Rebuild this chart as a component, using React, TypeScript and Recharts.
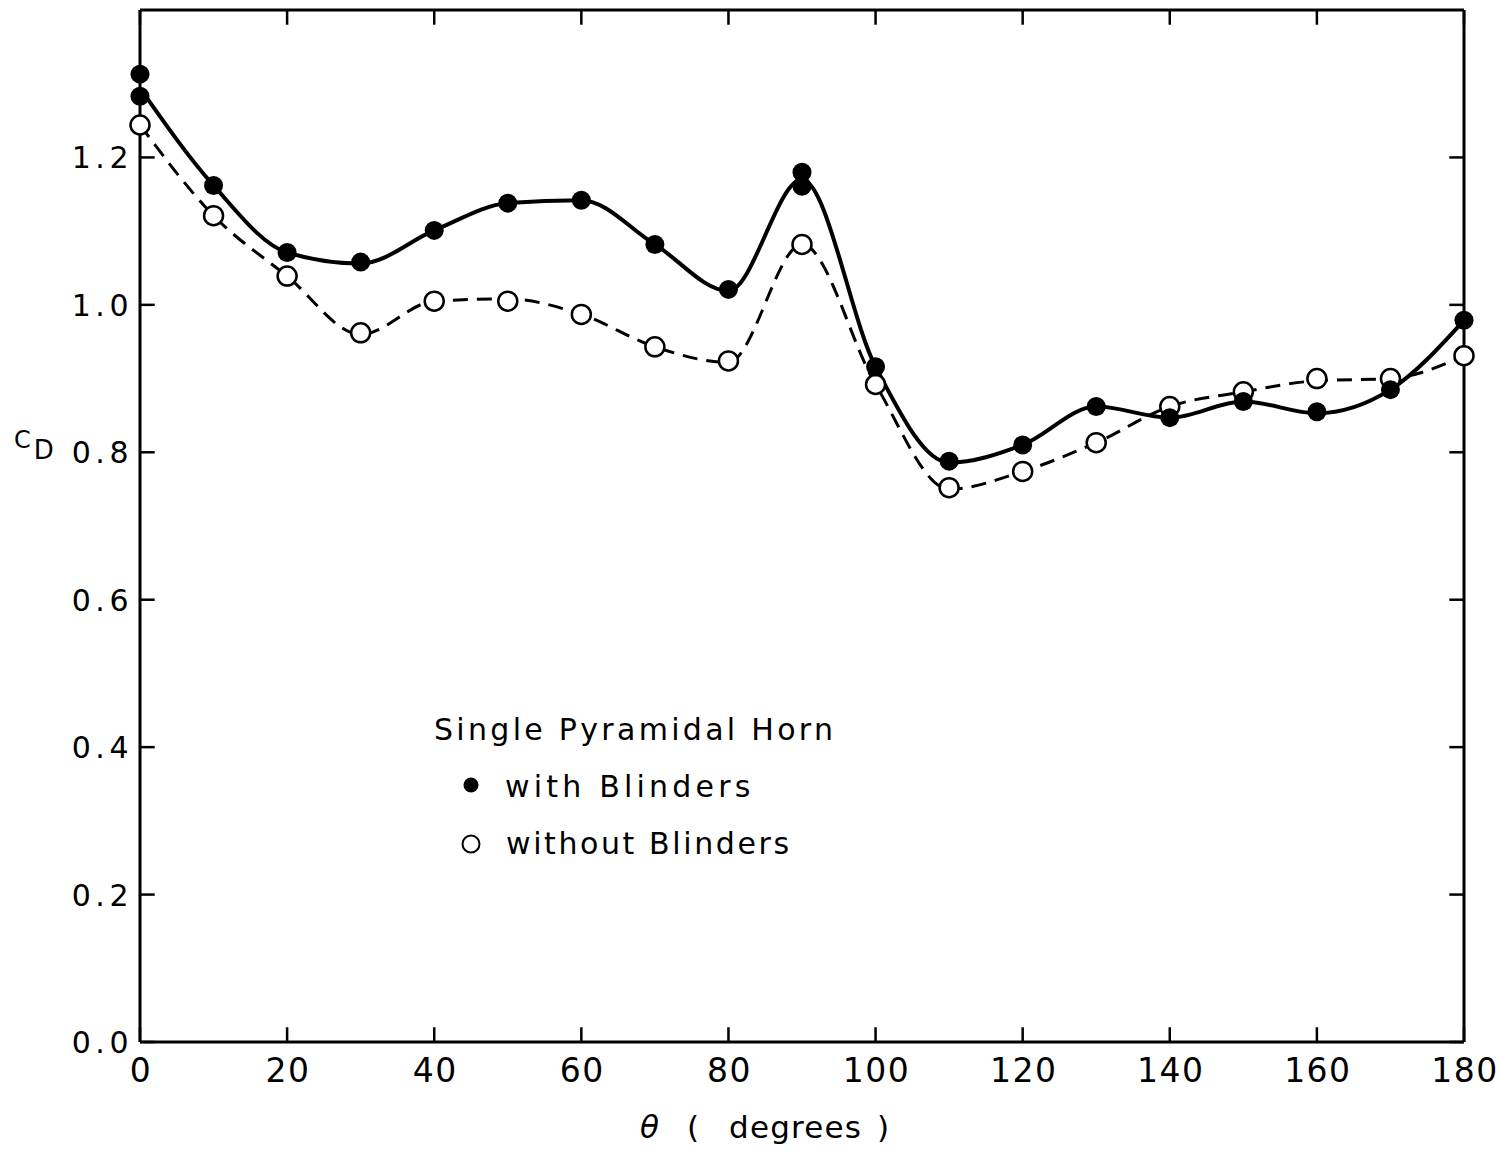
import { ComposedChart, Line, Scatter, XAxis, YAxis, ReferenceLine } from "recharts";

const withAngles = [0, 0, 10, 20, 30, 40, 50, 60, 70, 80, 90, 90, 100, 110, 120, 130, 140, 150, 160, 170, 180];
const withCd = [1.313, 1.283, 1.162, 1.071, 1.058, 1.101, 1.138, 1.142, 1.082, 1.021, 1.18, 1.161, 0.916, 0.788, 0.81, 0.862, 0.847, 0.869, 0.855, 0.885, 0.979];

const withoutAngles = [0, 10, 20, 30, 40, 50, 60, 70, 80, 90, 100, 110, 120, 130, 140, 150, 160, 170, 180];
const withoutCd = [1.244, 1.121, 1.039, 0.962, 1.005, 1.005, 0.987, 0.943, 0.924, 1.082, 0.892, 0.752, 0.774, 0.813, 0.862, 0.882, 0.9, 0.9, 0.931];

// faired curves, read where they cross each 10 degree line
const curveAngles = [0, 10, 20, 30, 40, 50, 60, 70, 80, 90, 100, 110, 120, 130, 140, 150, 160, 170, 180];
const curveWith = [1.294, 1.162, 1.071, 1.056, 1.101, 1.138, 1.142, 1.082, 1.019, 1.17, 0.916, 0.786, 0.81, 0.862, 0.847, 0.869, 0.853, 0.885, 0.979];
const curveWithout = [1.244, 1.121, 1.039, 0.96, 1.005, 1.008, 0.987, 0.943, 0.922, 1.082, 0.892, 0.75, 0.774, 0.813, 0.862, 0.882, 0.897, 0.9, 0.931];

const xTicks = [0, 20, 40, 60, 80, 100, 120, 140, 160, 180];
const yTicks = [0, 0.2, 0.4, 0.6, 0.8, 1.0, 1.2];
const X_MAX = 180;
const Y_MAX = 1.4;
// inward tick length, in axis units (about 15px)
const TICK_X = 2;
const TICK_Y = 0.02;

const withPts = withAngles.map((a, i) => ({ angle: a, cd: withCd[i] }));
const withoutPts = withoutAngles.map((a, i) => ({ angle: a, cd: withoutCd[i] }));
const curveWithData = curveAngles.map((a, i) => ({ angle: a, cd: curveWith[i] }));
const curveWithoutData = curveAngles.map((a, i) => ({ angle: a, cd: curveWithout[i] }));

const FONT = "'DejaVu Sans', sans-serif";
const axisLine = { stroke: "#000", strokeWidth: 3 };

const FilledDot = (p: any) => <circle cx={p.cx} cy={p.cy} r={9.5} fill="#000" />;
const OpenDot = (p: any) => <circle cx={p.cx} cy={p.cy} r={9.5} fill="#fff" stroke="#000" strokeWidth={2.5} />;

const bottomTick = (p: any) => (
  <text key={`b${p.index}`} x={Number(p.x) + 1} y={Number(p.y) + 40} textAnchor="middle" fontFamily={FONT} fontSize={33} letterSpacing={1.5} fill="#000">
    {p.payload.value}
  </text>
);
const leftTick = (p: any) => (
  <text key={`l${p.index}`} x={Number(p.x) - 7} y={Number(p.y) + 11} textAnchor="end" fontFamily={FONT} fontSize={30} letterSpacing={4.5} fill="#000">
    {p.payload.value.toFixed(1)}
  </text>
);
const noTick = (p: any) => <g key={`n${p.index}`} />;

const tickSeg = (key: string, a: { x: number; y: number }, b: { x: number; y: number }) => (
  <ReferenceLine key={key} xAxisId="b" yAxisId="l" segment={[a, b]} stroke="#000" strokeWidth={2.5} ifOverflow="visible" />
);

export default function App() {
  return (
    <div style={{ position: "absolute", left: 0, top: 0, width: 1500, height: 1157, background: "#fff" }}>
      <ComposedChart width={1500} height={1157} margin={{ top: 0, right: 6, bottom: 55, left: 60 }}>
        <XAxis
          xAxisId="b"
          dataKey="angle"
          type="number"
          domain={[0, X_MAX]}
          ticks={xTicks}
          height={60}
          tickSize={0}
          tickMargin={0}
          axisLine={axisLine}
          tickLine={false}
          tick={bottomTick}
        />
        <XAxis
          xAxisId="t"
          orientation="top"
          dataKey="angle"
          type="number"
          domain={[0, X_MAX]}
          ticks={xTicks}
          height={10}
          tickSize={0}
          tickMargin={0}
          axisLine={axisLine}
          tickLine={false}
          tick={noTick}
        />
        <YAxis
          yAxisId="l"
          type="number"
          domain={[0, Y_MAX]}
          ticks={yTicks}
          width={80}
          tickSize={0}
          tickMargin={0}
          axisLine={axisLine}
          tickLine={false}
          tick={leftTick}
        />
        <YAxis
          yAxisId="r"
          orientation="right"
          type="number"
          domain={[0, Y_MAX]}
          ticks={yTicks}
          width={30}
          tickSize={0}
          tickMargin={0}
          axisLine={axisLine}
          tickLine={false}
          tick={noTick}
        />

        {/* inward tick marks on all four sides of the frame */}
        {xTicks.map((t) => tickSeg(`bt${t}`, { x: t, y: 0 }, { x: t, y: TICK_Y }))}
        {xTicks.map((t) => tickSeg(`tt${t}`, { x: t, y: Y_MAX }, { x: t, y: Y_MAX - TICK_Y }))}
        {yTicks.map((t) => tickSeg(`lt${t}`, { x: 0, y: t }, { x: TICK_X, y: t }))}
        {yTicks.map((t) => tickSeg(`rt${t}`, { x: X_MAX, y: t }, { x: X_MAX - TICK_X, y: t }))}

        <Line
          xAxisId="b"
          yAxisId="l"
          data={curveWithoutData}
          dataKey="cd"
          type="monotone"
          stroke="#000"
          strokeWidth={3}
          strokeDasharray="15 9"
          dot={false}
          activeDot={false}
          isAnimationActive={false}
        />
        <Line
          xAxisId="b"
          yAxisId="l"
          data={curveWithData}
          dataKey="cd"
          type="monotone"
          stroke="#000"
          strokeWidth={4}
          dot={false}
          activeDot={false}
          isAnimationActive={false}
        />
        <Scatter xAxisId="b" yAxisId="l" data={withoutPts} dataKey="cd" shape={OpenDot} isAnimationActive={false} />
        <Scatter xAxisId="b" yAxisId="l" data={withPts} dataKey="cd" shape={FilledDot} isAnimationActive={false} />
      </ComposedChart>

      {/* C_D axis label */}
      <div style={{ position: "absolute", left: 14, top: 424, fontFamily: FONT, fontSize: 24, color: "#000", whiteSpace: "pre" }}>
        C<span style={{ fontSize: 26, position: "relative", top: 11, left: 3 }}>D</span>
      </div>

      {/* x axis title */}
      <div style={{ position: "absolute", left: 0, top: 1109, fontFamily: FONT, fontSize: 31, color: "#000", whiteSpace: "pre" }}>
        <i style={{ position: "absolute", left: 640 }}>θ</i>
        <span style={{ position: "absolute", left: 687 }}>(</span>
        <span style={{ position: "absolute", left: 729, letterSpacing: 1.2 }}>degrees</span>
        <span style={{ position: "absolute", left: 877 }}>)</span>
      </div>

      {/* legend */}
      <div style={{ position: "absolute", left: 434, top: 701, fontFamily: FONT, fontSize: 30, color: "#000", letterSpacing: 3.3, lineHeight: "57px", whiteSpace: "pre" }}>
        <div>Single Pyramidal Horn</div>
        <div style={{ display: "flex", alignItems: "center" }}>
          <svg width={71} height={30}>
            <circle cx={37} cy={13} r={7.5} fill="#000" />
          </svg>
          <span style={{ letterSpacing: 4.2 }}>with Blinders</span>
        </div>
        <div style={{ display: "flex", alignItems: "center" }}>
          <svg width={72} height={30}>
            <circle cx={37} cy={15} r={8.5} fill="#fff" stroke="#000" strokeWidth={2} />
          </svg>
          <span style={{ letterSpacing: 2.6 }}>without Blinders</span>
        </div>
      </div>
    </div>
  );
}
